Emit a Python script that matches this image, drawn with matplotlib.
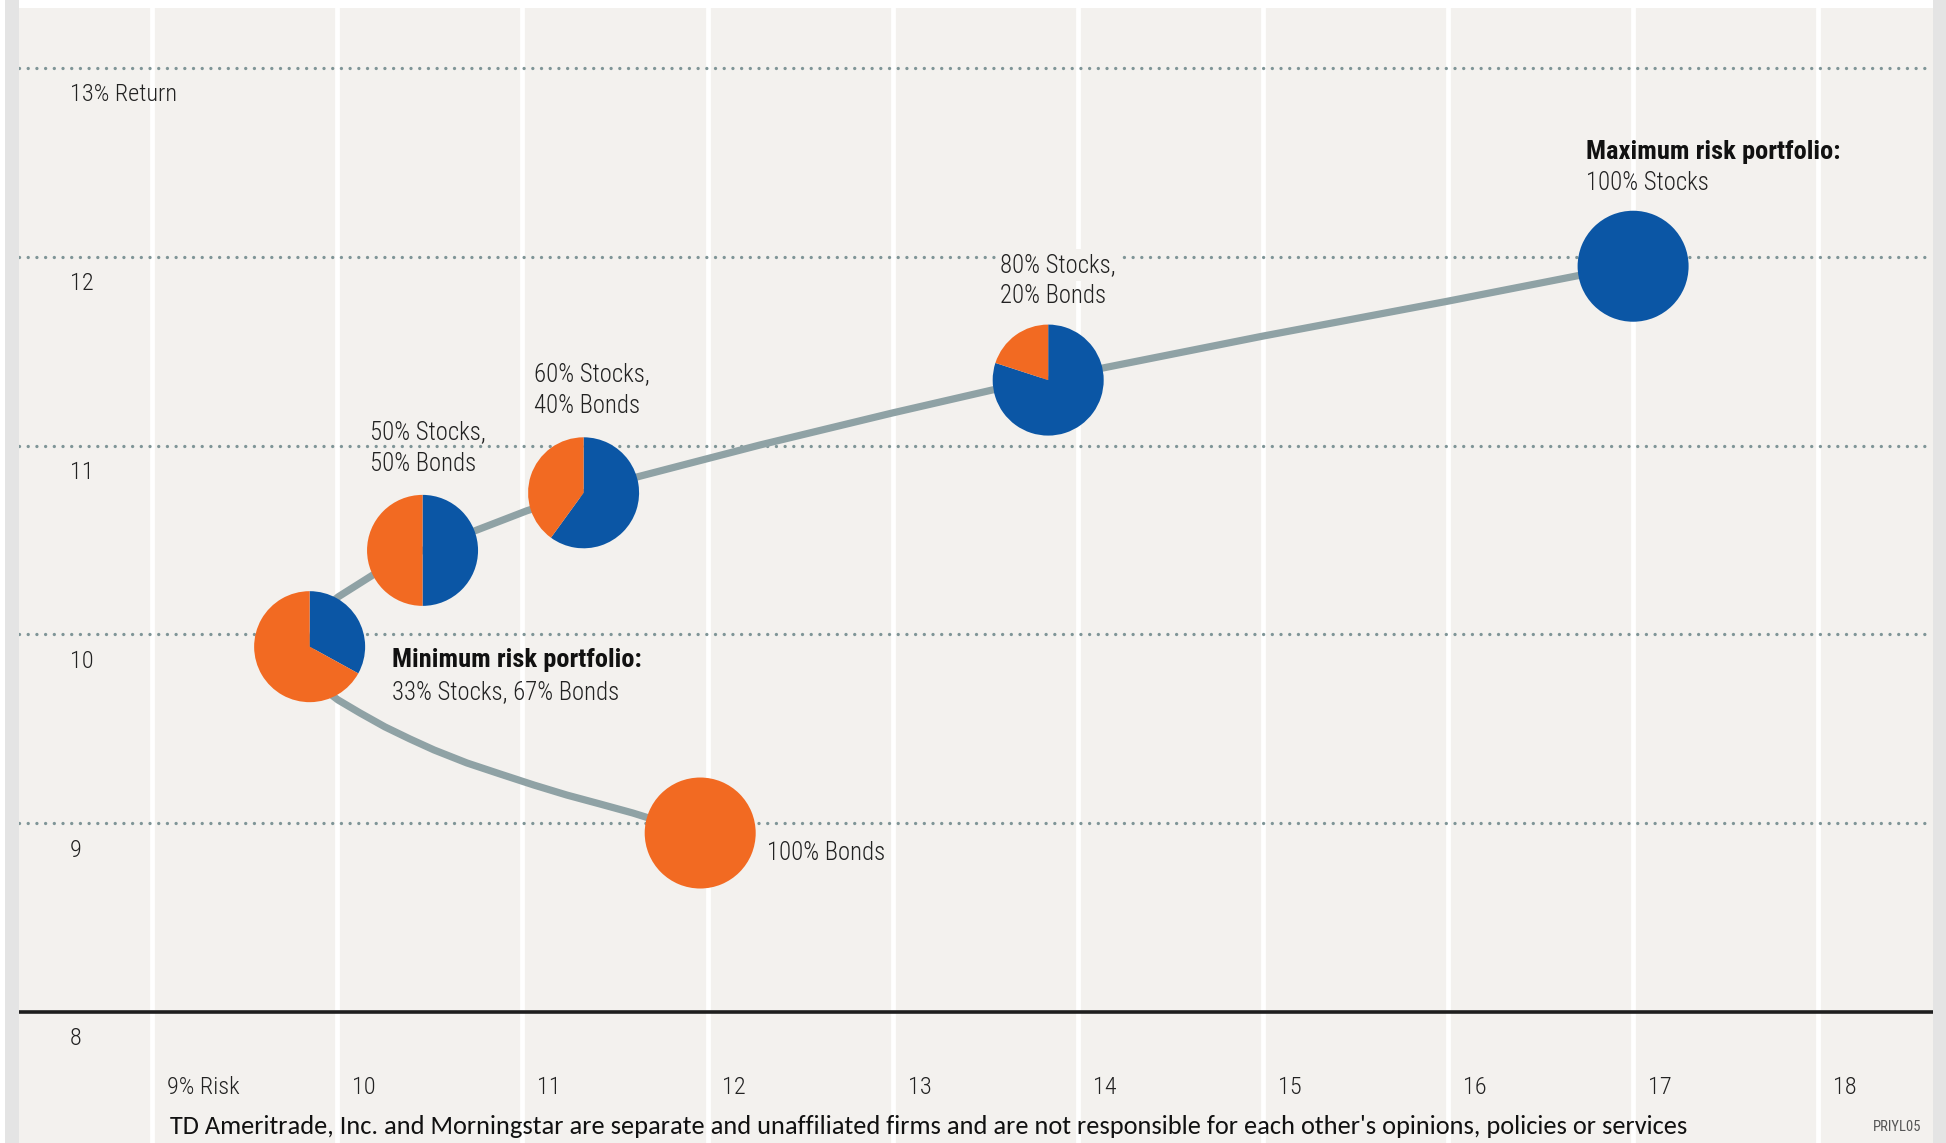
import matplotlib
matplotlib.use("Agg")
import matplotlib.pyplot as plt
from matplotlib.patches import Wedge, Rectangle
from matplotlib.transforms import ScaledTranslation

# ---------------- data ----------------
x_ticks = [9, 10, 11, 12, 13, 14, 15, 16, 17, 18]
x_tick_labels = ["9% Risk", "10", "11", "12", "13", "14", "15", "16", "17", "18"]
y_ticks = [8, 9, 10, 11, 12, 13]
y_tick_labels = ["8", "9", "10", "11", "12", "13% Return"]

portfolio_names = ["Minimum risk", "50/50", "60/40", "80/20", "100% Stocks", "100% Bonds"]
portfolio_risk = [9.85, 10.46, 11.33, 13.84, 17.00, 11.96]
portfolio_return = [9.935, 10.445, 10.75, 11.347, 11.95, 8.948]
stock_share = [0.33, 0.50, 0.60, 0.80, 1.00, 0.00]

frontier_risk = [11.96, 11.769, 11.596, 11.418, 11.24, 11.062, 10.878, 10.70, 10.522,
                 10.392, 10.257, 10.122, 10.003, 9.933, 9.85,
                 9.896, 10.003, 10.192, 10.46, 10.754, 11.024, 11.33, 11.619, 12.282,
                 12.999, 13.54, 13.84, 14.12, 15.0, 15.994, 16.712, 17.0]
frontier_return = [8.948, 9.001, 9.054, 9.102, 9.149, 9.202, 9.261, 9.319, 9.388,
                   9.446, 9.510, 9.584, 9.653, 9.706, 9.935,
                   10.103, 10.198, 10.315, 10.445, 10.553, 10.655, 10.75, 10.834, 11.003,
                   11.173, 11.295, 11.347, 11.408, 11.580, 11.764, 11.902, 11.95]

# ---------------- style ----------------
BG = "#f3f1ee"
BLUE = "#0b56a5"
ORANGE = "#f26a22"
CURVE = "#8fa2a5"
DOT = "#7f9597"
TXT = "#222222"
NARROW = ["Roboto Condensed", "Liberation Sans Narrow", "Roboto", "DejaVu Sans"]
FOOT = ["Carlito", "Lato", "DejaVu Sans"]

W, H = 1946, 1143
fig = plt.figure(figsize=(W / 100, H / 100), dpi=100, facecolor="white")

# side strips
fig.patches.append(Rectangle((5 / W, 0), 14 / W, 1, transform=fig.transFigure,
                             facecolor="#e4e4e4", edgecolor="none", zorder=0))
fig.patches.append(Rectangle((1933 / W, 0), 13 / W, 1, transform=fig.transFigure,
                             facecolor="#e4e4e4", edgecolor="none", zorder=0))

left_px, right_px, top_px = 19, 1933, 8
ax = fig.add_axes([left_px / W, 0, (right_px - left_px) / W, (H - top_px) / H])
ax.set_facecolor(BG)
x0_px, xs = 152.3, 185.1
y13_px, ys = 68.0, 188.8
ax.set_xlim(9 - (x0_px - left_px) / xs, 9 + (right_px - x0_px) / xs)
ax.set_ylim(13 - (H - y13_px) / ys, 13 + (y13_px - top_px) / ys)
ax.set_xticks([])
ax.set_yticks([])
for sp in ax.spines.values():
    sp.set_visible(False)

# vertical white gridlines
for xv in x_ticks:
    ax.axvline(xv, color="white", lw=3.4, zorder=1)

# horizontal dotted lines + solid baseline
for yv in y_ticks:
    if yv == 8:
        ax.axhline(yv, color="#1e1e1e", lw=2.6, zorder=2)
    else:
        ax.axhline(yv, color=DOT, lw=2.4, linestyle=(0, (0.01, 2.6)),
                   dash_capstyle="round", zorder=2)

# y labels
for yv, lab in zip(y_ticks, y_tick_labels):
    ax.text(8.555, yv - 0.142, lab, ha="left", va="center", fontsize=17.5,
            family=NARROW, fontweight="light", color=TXT, zorder=6)

# x labels
for xv, lab in zip(x_ticks, x_tick_labels):
    ax.text(xv + 0.08, 7.60, lab, ha="left", va="center", fontsize=17.5,
            family=NARROW, fontweight="light", color=TXT, zorder=6)

# frontier curve
ax.plot(frontier_risk, frontier_return, color=CURVE, lw=5.2,
        solid_capstyle="round", solid_joinstyle="round", zorder=3)

# pies
R_IN = 0.555
for xr, yr, s in zip(portfolio_risk, portfolio_return, stock_share):
    tr = fig.dpi_scale_trans + ScaledTranslation(xr, yr, ax.transData)
    if s >= 1:
        ax.add_patch(Wedge((0, 0), R_IN, 0, 360, facecolor=BLUE, edgecolor="none",
                           transform=tr, zorder=4))
    elif s <= 0:
        ax.add_patch(Wedge((0, 0), R_IN, 0, 360, facecolor=ORANGE, edgecolor="none",
                           transform=tr, zorder=4))
    else:
        ax.add_patch(Wedge((0, 0), R_IN, 90 - s * 360, 90, facecolor=BLUE,
                           edgecolor="none", transform=tr, zorder=4))
        ax.add_patch(Wedge((0, 0), R_IN, 90, 450 - s * 360, facecolor=ORANGE,
                           edgecolor="none", transform=tr, zorder=4))

# annotations
def px2d(px, py):
    return 9 + (px - x0_px) / xs, 13 - (py - y13_px) / ys

def label(px, py, txt, bold=False, bbox=False):
    x, y = px2d(px, py)
    kw = {}
    if bbox:
        kw["bbox"] = dict(facecolor=BG, edgecolor="none", pad=3)
    ax.text(x, y, txt, ha="left", va="center", fontsize=19 if bold else 17.8,
            family=NARROW, color="#111111" if bold else TXT,
            fontweight="bold" if bold else "light", zorder=6, **kw)

label(1586, 152, "Maximum risk portfolio:", bold=True)
label(1586, 183, "100% Stocks")
label(1000, 265, "80% Stocks,", bbox=True)
label(1000, 296, "20% Bonds")
label(534, 374, "60% Stocks,")
label(534, 406, "40% Bonds")
label(370, 432, "50% Stocks,")
label(370, 464, "50% Bonds")
label(392, 660, "Minimum risk portfolio:", bold=True)
label(392, 692, "33% Stocks, 67% Bonds")
label(767, 853, "100% Bonds")

# footer
fx, fy = px2d(170, 1126)
ax.text(fx, fy, "TD Ameritrade, Inc. and Morningstar are separate and unaffiliated firms "
        "and are not responsible for each other's opinions, policies or services",
        ha="left", va="center", fontsize=19, family=FOOT, color="#111111", zorder=6)
px_, py_ = px2d(1897, 1127)
ax.text(px_, py_, "PRIYL05", ha="center", va="center", fontsize=10.5, family=NARROW,
        color="#555555", zorder=6)

fig.savefig("out.png", dpi=100, facecolor="white")
